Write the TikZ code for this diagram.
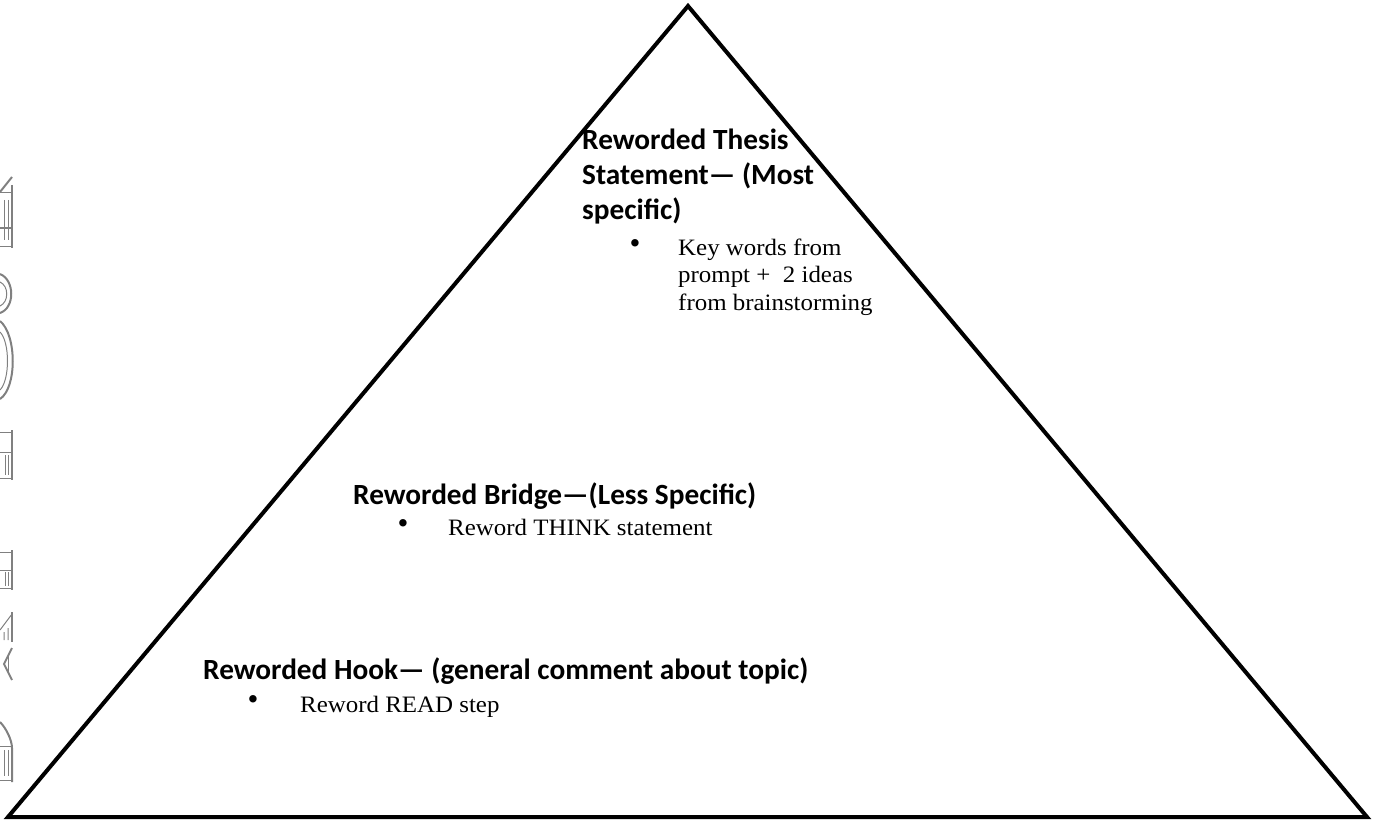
\documentclass[tikz,border=0pt]{standalone}
\usepackage{fontspec}
\newfontfamily\headfont{Carlito}
\newfontfamily\bodyfont{Liberation Serif}[FakeStretch=1.06]
\newfontfamily\bulfont{Liberation Serif}
\tikzset{
  head/.style={anchor=base west, inner sep=0pt, font=\headfont\bfseries\fontsize{29.3}{34}\selectfont},
  body/.style={anchor=base west, inner sep=0pt, font=\bodyfont\fontsize{23.5}{27}\selectfont},
  bul/.style={anchor=center, inner sep=0pt, font=\bulfont\fontsize{31}{31}\selectfont},
  frag/.style={draw=black!50, line width=2pt},
  fragthin/.style={draw=black!50, line width=1pt},
  edge/.style={draw=black, line width=4pt, line join=miter}
}
\begin{document}
\begin{tikzpicture}[x=1pt,y=-1pt]
\useasboundingbox (0,0) rectangle (1373,821);
% pyramid
\coordinate (apex) at (688,6);
\coordinate (bl) at (8,817);
\coordinate (br) at (1367,817);
\draw[edge] (apex) -- (br) -- (bl) -- cycle;
% thesis
\node[head] (th1) at (582,150) {Reworded Thesis};
\node[head] (th2) at (582,185) {Statement— (Most};
\node[head] (th3) at (582,220) {specific)};
\node[bul] (tb) at (635,247) {•};
\node[body] (tt1) at (678,255) {Key words from};
\node[body] (tt2) at (678,282) {prompt +\ \ 2 ideas};
\node[body] (tt3) at (678,310) {from brainstorming};
% bridge
\node[head] (br1) at (353,504) {Reworded Bridge—(Less Specific)};
\node[bul] (bb) at (403,527) {•};
\node[body] (bt1) at (448,535) {Reword THINK statement};
% hook
\node[head] (hk1) at (203,679) {Reworded Hook— (general comment about topic)};
\node[bul] (hb) at (253,703) {•};
\node[body] (ht1) at (300,712) {Reword READ step};
% clipped decorative letters at left edge
\begin{scope}
\clip (0,0) rectangle (15,821);
% letter fragment 1
\draw[frag] (0,192) -- (12,177);
\draw[frag] (12,185) -- (12,248);
\draw[fragthin] (0,193) -- (12,193) (0,228) -- (12,228) (0,246) -- (12,246);
\draw[fragthin] (4,200) -- (4,240) (8,200) -- (8,240);
% letter fragment 2
\draw[frag] (0,274) .. controls (15,280) and (15,308) .. (0,313);
\draw[fragthin] (0,282) .. controls (9,286) and (9,302) .. (0,306);
% letter fragment 3
\draw[frag] (0,321) .. controls (17,335) and (17,388) .. (0,399);
\draw[fragthin] (0,332) .. controls (10,342) and (10,380) .. (0,390);
% letter fragment 4
\draw[frag] (12,430) -- (12,480);
\draw[fragthin] (0,432) -- (12,432) (0,452) -- (12,452) (0,478) -- (12,478);
\draw[fragthin] (5,455) -- (5,475) (8,455) -- (8,475);
% letter fragment 5
\draw[frag] (12,550) -- (12,590);
\draw[fragthin] (0,552) -- (12,552) (0,570) -- (12,570) (0,588) -- (12,588);
\draw[fragthin] (5,572) -- (5,586) (8,572) -- (8,586);
% letter fragment 6
\draw[frag] (12,612) -- (12,642);
\draw[fragthin] (0,630) -- (12,614) (4,632) -- (4,640) (8,628) -- (8,640);
% letter fragment 7
\draw[frag] (12,648) -- (4,664) -- (12,680);
\draw[fragthin] (8,655) -- (8,673);
% letter fragment 8
\draw[frag] (0,722) .. controls (6,728) and (12,740) .. (12,748) -- (12,782);
\draw[fragthin] (0,746) -- (12,746) (0,780) -- (12,780);
\draw[fragthin] (4,750) -- (4,776) (8,750) -- (8,776);
\end{scope}
\end{tikzpicture}
\end{document}
